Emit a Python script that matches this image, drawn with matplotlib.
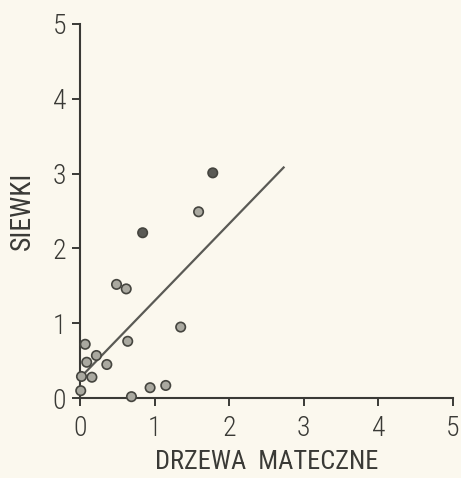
import matplotlib
matplotlib.use('Agg')
import matplotlib.pyplot as plt

# punkty
drzewa = [1.78, 1.59, 0.84, 0.49, 0.62, 1.35, 0.64, 0.07, 0.22, 0.09,
          0.36, 0.16, 0.02, 0.01, 0.69, 0.94, 1.15]
siewki = [3.01, 2.49, 2.21, 1.52, 1.46, 0.95, 0.76, 0.72, 0.57, 0.48,
          0.45, 0.28, 0.29, 0.10, 0.02, 0.14, 0.17]
ciemne = [True, False, True, False, False, False, False, False, False, False,
          False, False, False, False, False, False, False]

# linia regresji
linia_x = [0.0, 2.73]
wyraz_wolny = 0.27
nachylenie = 1.03

ticks = [0, 1, 2, 3, 4, 5]

plt.rcParams['font.family'] = ['Roboto Condensed', 'DejaVu Sans']
plt.rcParams['font.weight'] = 300

tlo = '#fbf8ee'
ink = '#3a3a36'
fig = plt.figure(figsize=(4.61, 4.78), dpi=100, facecolor=tlo)
ax = fig.add_axes([0.1735, 0.167, 0.809, 0.783], facecolor=tlo)

ly = [wyraz_wolny + nachylenie * v for v in linia_x]
ax.plot(linia_x, ly, color='#5a5a55', lw=1.6, zorder=2)

kol = ['#5a5a55' if c else '#aaa9a0' for c in ciemne]
ax.scatter(drzewa, siewki, s=46, c=kol, edgecolors='#45453f',
           linewidths=1.2, zorder=3, clip_on=False)

ax.set_xlim(0, 5)
ax.set_ylim(0, 5)
ax.set_xticks(ticks)
ax.set_yticks(ticks)
ax.set_xticklabels([str(t) for t in ticks])
ax.set_yticklabels([str(t) for t in ticks])

for s in ['top', 'right']:
    ax.spines[s].set_visible(False)
for s in ['left', 'bottom']:
    ax.spines[s].set_color(ink)
    ax.spines[s].set_linewidth(1.5)

ax.tick_params(direction='out', length=6, width=1.4, color=ink,
               labelsize=20, labelcolor=ink, pad=4)
ax.tick_params(axis='x', pad=6)

ax.set_xlabel('DRZEWA  MATECZNE', fontsize=19, color=ink, labelpad=6)
ax.set_ylabel('SIEWKI', fontsize=20, color=ink, labelpad=12)

fig.savefig('out.png', dpi=100, facecolor=tlo)
